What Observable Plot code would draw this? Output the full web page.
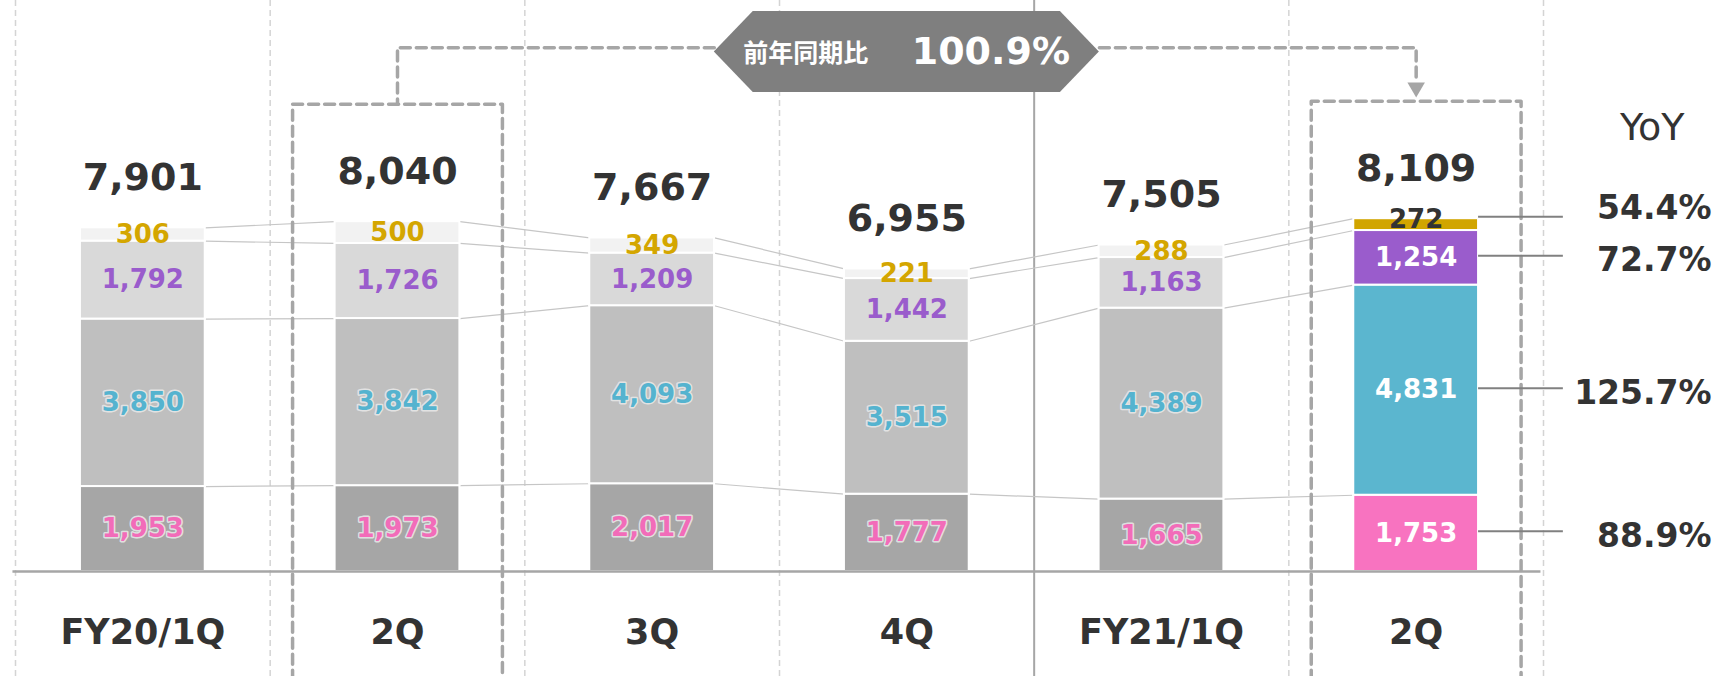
<!DOCTYPE html>
<html><head><meta charset="utf-8">
<script src="https://cdn.jsdelivr.net/npm/d3@7"></script>
<script src="https://cdn.jsdelivr.net/npm/@observablehq/plot@0.6"></script>
<style>
html,body{margin:0;padding:0;background:#fff;overflow:hidden;}
#chart svg{display:block;}
</style></head><body><div id="chart"></div>
<script>
// ---- data ----
const periods = ["FY20/1Q","FY20/2Q","FY20/3Q","FY20/4Q","FY21/1Q","FY21/2Q"];
const periodLabels = ["FY20/1Q","2Q","3Q","4Q","FY21/1Q","2Q"];
const pinkValues   = [1953, 1973, 2017, 1777, 1665, 1753];
const blueValues   = [3850, 3842, 4093, 3515, 4389, 4831];
const purpleValues = [1792, 1726, 1209, 1442, 1163, 1254];
const yellowValues = [306, 500, 349, 221, 288, 272];
const totals       = [7901, 8040, 7667, 6955, 7505, 8109];
const yoyValues    = [88.9, 125.7, 72.7, 54.4]; // pink, blue, purple, yellow
const yoyHeader = "YoY";
const bannerLabel = "前年同期比";
const bannerValue = "100.9%";
const comparePair = [1, 5]; // FY20/2Q vs FY21/2Q

// ---- styles ----
const seriesValues = [pinkValues, blueValues, purpleValues, yellowValues];
const greyFills = ["#a6a6a6", "#bfbfbf", "#d9d9d9", "#f2f2f2"];
const hiFills = ["#f873c0", "#5bb6cf", "#9a5ccc", "#d1a500"];
const labelColors = ["#f26cb9", "#55b3cf", "#9a5ccc", "#d4a600"];
const font = "'DejaVu Sans', 'Noto Sans CJK JP', sans-serif";
const barHalf = 0.245, boxHalf = 0.412;
const last = periods.length - 1;
const idx = periods.map((_, i) => i);

const rows = [];
idx.forEach(i => {
  let cum = 0;
  seriesValues.forEach((vals, k) => {
    const v = vals[i];
    rows.push({i, k, value: v, y1: cum, y2: cum + v, mid: cum + v / 2, hi: i === last});
    cum += v;
  });
});
const rowAt = (i, k) => rows.find(r => r.i === i && r.k === k);

const links = [];
for (let i = 0; i < last; i++) for (let k = 0; k < 4; k++) {
  links.push({x1: i + barHalf, x2: i + 1 - barHalf, y1: rowAt(i, k).y2, y2: rowAt(i + 1, k).y2});
}

const boxPad = 2700;
const boxTop = i => totals[i] + boxPad;
const yBelow = -2500;
const bannerX = (comparePair[0] + comparePair[1]) / 2;
const bannerY = 11940, bannerHalfH = 931, connY = 12040;
const bannerOuter = 0.756, bannerInner = 0.603;
const banner = [
  {x: bannerX - bannerOuter, y1: bannerY, y2: bannerY},
  {x: bannerX - bannerInner, y1: bannerY - bannerHalfH, y2: bannerY + bannerHalfH},
  {x: bannerX + bannerInner, y1: bannerY - bannerHalfH, y2: bannerY + bannerHalfH},
  {x: bannerX + bannerOuter, y1: bannerY, y2: bannerY}
];
const boxPath = i => [
  {x: i - boxHalf, y: yBelow}, {x: i - boxHalf, y: boxTop(i)},
  {x: i + boxHalf, y: boxTop(i)}, {x: i + boxHalf, y: yBelow}
];
const arrowY = boxTop(comparePair[1]) + 317;
const leftConn = [
  {x: bannerX - bannerOuter, y: connY}, {x: comparePair[0], y: connY}, {x: comparePair[0], y: boxTop(comparePair[0])}
];
const rightConn = [
  {x: bannerX + bannerOuter, y: connY}, {x: comparePair[1], y: connY}, {x: comparePair[1], y: arrowY + 115}
];

const lastRows = rows.filter(r => r.hi);
const yoyX = 6.16, leadEnd = 5.578;
const yoyRows = lastRows.map(r => ({...r, yoy: yoyValues[r.k], ly: r.k === 3 ? r.y2 : r.mid}));
const dashed = {stroke: "#a6a6a6", strokeWidth: 3.5, strokeDasharray: "10,6"};

const chart = Plot.plot({
  width: 1719, height: 676,
  marginTop: 0, marginBottom: 105, marginLeft: 15, marginRight: 176,
  x: {type: "linear", domain: [-0.5, 5.5]},
  y: {domain: [0, 13126], axis: null},
  color: {type: "identity"},
  style: {fontFamily: font, background: "white"},
  marks: [
    Plot.ruleX(idx.map(i => i - 0.5).concat([last + 0.5]).filter(v => v !== 3.5),
      {stroke: "#d4d4d4", strokeWidth: 1.5, strokeDasharray: "6,4", insetBottom: -105}),
    Plot.ruleX([3.5], {stroke: "#a6a6a6", strokeWidth: 2, insetBottom: -105}),
    Plot.link(links, {x1: "x1", x2: "x2", y1: "y1", y2: "y2", stroke: "#c6c6c6", strokeWidth: 1.2}),
    Plot.rectY(rows, {x1: d => d.i - barHalf, x2: d => d.i + barHalf, y1: "y1", y2: "y2",
      fill: d => d.hi ? hiFills[d.k] : greyFills[d.k], stroke: "white", strokeWidth: 2}),
    Plot.ruleY([0], {x1: -0.51, x2: 5.49, stroke: "#a6a6a6", strokeWidth: 2.5}),
    // segment labels on grey bars
    Plot.text(rows.filter(r => !r.hi), {x: "i", y: "mid", text: d => d3.format(",")(d.value),
      fill: d => labelColors[d.k], stroke: d => d.k < 2 ? "#e8e8e8" : "none", strokeWidth: 3, strokeOpacity: 0.9,
      fontSize: 26, fontWeight: "bold", lineAnchor: "middle"}),
    // segment labels on highlighted bar
    Plot.text(lastRows.filter(r => r.k < 3), {x: "i", y: "mid", text: d => d3.format(",")(d.value),
      fill: "white", fontSize: 26, fontWeight: "bold", lineAnchor: "middle"}),
    Plot.text(lastRows.filter(r => r.k === 3), {x: "i", y: "mid", dy: -5, text: d => d3.format(",")(d.value),
      fill: "#333", fontSize: 26, fontWeight: "bold", lineAnchor: "middle"}),
    // totals
    Plot.text(idx, {x: d => d, y: d => totals[d], dy: -50, text: d => d3.format(",")(totals[d]),
      fill: "#333", fontSize: 38, fontWeight: "bold", lineAnchor: "middle"}),
    // comparison boxes and connector
    Plot.line(boxPath(comparePair[0]), {x: "x", y: "y", ...dashed}),
    Plot.line(boxPath(comparePair[1]), {x: "x", y: "y", ...dashed}),
    Plot.line(leftConn, {x: "x", y: "y", ...dashed}),
    Plot.line(rightConn, {x: "x", y: "y", ...dashed}),
    Plot.dot([comparePair[1]], {x: d => d, y: () => arrowY, symbol: "triangle", rotate: 180, r: 6.5, fill: "#a6a6a6", stroke: "none"}),
    Plot.areaY(banner, {x: "x", y1: "y1", y2: "y2", fill: "#7f7f7f"}),
    Plot.text([bannerLabel], {x: () => bannerX, y: () => bannerY, dx: -101, dy: 2, text: d => d,
      fill: "white", fontSize: 25, fontWeight: "bold", lineAnchor: "middle"}),
    Plot.text([bannerValue], {x: () => bannerX, y: () => bannerY, dx: 84, text: d => d,
      fill: "white", fontSize: 38, fontWeight: "bold", lineAnchor: "middle"}),
    // YoY
    Plot.ruleY(yoyRows, {y: "ly", dy: -2, x1: () => last + barHalf, x2: () => leadEnd, stroke: "#808080", strokeWidth: 2}),
    Plot.text(yoyRows.filter(r => r.k < 3), {x: () => yoyX, y: "ly", dy: 3, text: d => d.yoy.toFixed(1) + "%",
      textAnchor: "end", fill: "#333", fontSize: 33, fontWeight: "bold", lineAnchor: "middle"}),
    Plot.text(yoyRows.filter(r => r.k === 3), {x: () => yoyX, y: "ly", dy: -10, text: d => d.yoy.toFixed(1) + "%",
      textAnchor: "end", fill: "#333", fontSize: 33, fontWeight: "bold", lineAnchor: "middle"}),
    Plot.text([yoyHeader], {x: () => yoyX, y: () => boxTop(last), dx: -27, dy: 27, text: d => d,
      textAnchor: "end", fill: "#333", fontSize: 38, lineAnchor: "middle"}),
    // category axis
    Plot.axisX({ticks: idx, tickFormat: i => periodLabels[i], tickSize: 0, tickPadding: 48,
      fontSize: 35, fontWeight: "bold", color: "#333", label: null})
  ]
});
document.getElementById("chart").appendChild(chart);
</script></body></html>
